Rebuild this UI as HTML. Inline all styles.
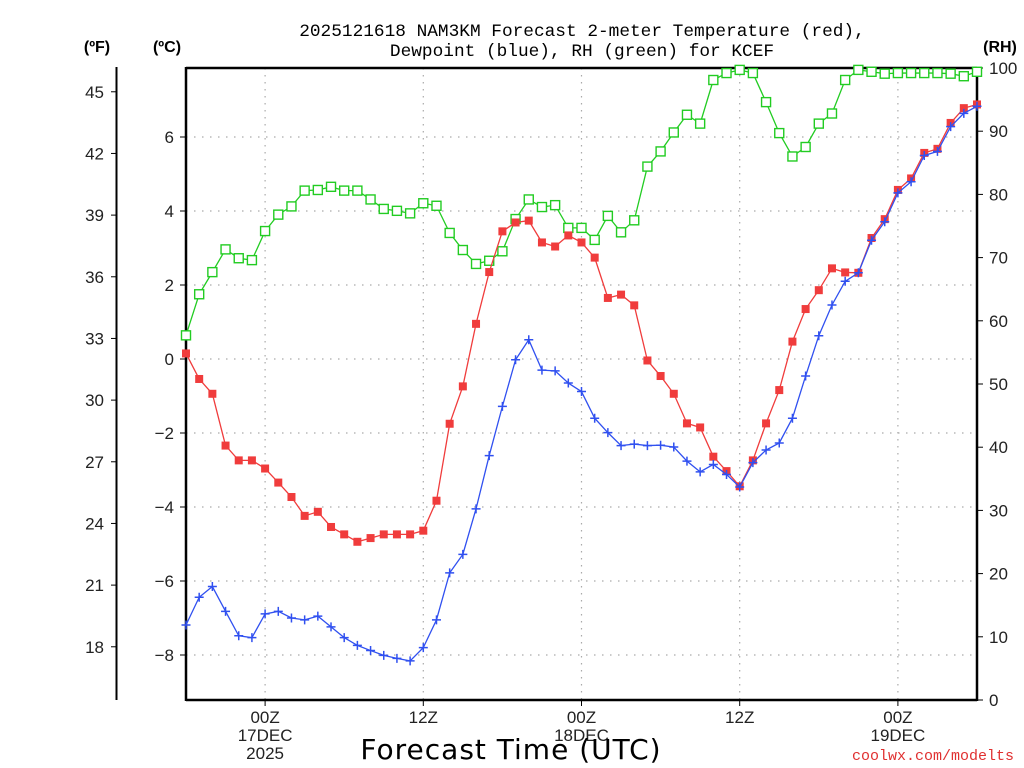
<!DOCTYPE html>
<html><head><meta charset="utf-8"><style>
html,body{margin:0;padding:0;background:#fff;}
svg{display:block;font-family:"Liberation Sans",sans-serif;}
</style></head><body>
<svg id="chart" width="1024" height="768" viewBox="0 0 1024 768" xmlns="http://www.w3.org/2000/svg">
<rect width="1024" height="768" fill="#fff"/>
<g font-family="Liberation Mono, monospace" font-size="17.8" text-anchor="middle" fill="#000">
<text x="582" y="36">2025121618 NAM3KM Forecast 2-meter Temperature (red),</text>
<text x="582" y="56">Dewpoint (blue), RH (green) for KCEF</text>
</g>
<text x="97" y="52" font-size="16" font-weight="bold" text-anchor="middle">(ºF)</text>
<text x="167" y="52" font-size="16" font-weight="bold" text-anchor="middle">(ºC)</text>
<text x="1000" y="52" font-size="16" font-weight="bold" text-anchor="middle">(RH)</text>
<g id="grid"></g>
<g id="axes"></g>
<g id="series"></g>
<text x="511" y="759" font-size="28" text-anchor="middle" font-family="DejaVu Sans, sans-serif" letter-spacing="1">Forecast Time (UTC)</text>
<text x="1014" y="760" font-size="15" fill="#e03030" text-anchor="end" font-family="Liberation Mono, monospace">coolwx.com/modelts</text>
</svg>
<script>
const hours = Array.from({length:61},(_,i)=>i-6); // forecast hours relative to 00Z 17DEC
const tempC = [0.15,-0.54,-0.94,-2.34,-2.74,-2.74,-2.96,-3.34,-3.73,-4.24,-4.13,-4.54,-4.74,-4.94,-4.84,-4.74,-4.74,-4.74,-4.64,-3.83,-1.75,-0.74,0.95,2.35,3.45,3.69,3.74,3.15,3.04,3.34,3.15,2.74,1.65,1.74,1.45,-0.04,-0.46,-0.94,-1.74,-1.85,-2.64,-3.03,-3.44,-2.74,-1.74,-0.84,0.47,1.35,1.86,2.45,2.34,2.33,3.27,3.78,4.57,4.88,5.57,5.68,6.38,6.78,6.88];
const dewC = [-7.19,-6.44,-6.15,-6.82,-7.48,-7.53,-6.89,-6.82,-7.0,-7.05,-6.95,-7.24,-7.53,-7.74,-7.88,-8.01,-8.09,-8.16,-7.80,-7.05,-5.78,-5.28,-4.05,-2.61,-1.28,-0.02,0.52,-0.30,-0.32,-0.65,-0.88,-1.60,-1.99,-2.34,-2.30,-2.34,-2.33,-2.38,-2.76,-3.05,-2.85,-3.12,-3.46,-2.80,-2.46,-2.27,-1.60,-0.46,0.63,1.46,2.10,2.33,3.21,3.71,4.49,4.79,5.50,5.61,6.28,6.64,6.83];
const rh = [57.7,64.2,67.7,71.3,69.9,69.6,74.2,76.8,78.1,80.6,80.7,81.2,80.6,80.6,79.2,77.7,77.4,77.0,78.6,78.2,73.9,71.2,69.0,69.5,71.0,76.1,79.2,78.0,78.3,74.7,74.7,72.8,76.6,74.0,75.9,84.4,86.8,89.8,92.6,91.2,98.1,99.2,99.7,99.2,94.6,89.7,86.0,87.5,91.2,92.8,98.1,99.7,99.4,99.1,99.2,99.2,99.2,99.2,99.1,98.7,99.4];
const cTicks = [-8,-6,-4,-2,0,2,4,6];
const fTicks = [18,21,24,27,30,33,36,39,42,45];
const rhTicks = [0,10,20,30,40,50,60,70,80,90,100];
const xTickHours = [0,12,24,36,48];
const xTickLabels = [["00Z","17DEC","2025"],["12Z"],["00Z","18DEC"],["12Z"],["00Z","19DEC"]];

const L=186,R=977,T=68,B=700;
const xS=h=>L+(h+6)*(R-L)/60;
const yC=c=>359-c*37;
const yF=f=>yC((f-32)*5/9);
const yRH=r=>B-r*(B-T)/100;
const NS="http://www.w3.org/2000/svg";
function mk(parent,tag,attrs){const e=document.createElementNS(NS,tag);for(const k in attrs)e.setAttribute(k,attrs[k]);parent.appendChild(e);return e;}
const grid=document.getElementById('grid'),axes=document.getElementById('axes'),ser=document.getElementById('series');

cTicks.forEach(c=>{
  const g=mk(grid,'line',{x1:L,x2:R,y1:yC(c),y2:yC(c),stroke:'#aaa','stroke-width':1.2,'stroke-dasharray':'1.5,6.5'});
  
  
  const t=mk(axes,'line',{x1:L-6,x2:L,y1:yC(c),y2:yC(c),stroke:'#000','stroke-width':1});
  
  
  const tx=mk(axes,'text',{x:L-12,y:yC(c)+6,'font-size':17,'text-anchor':'end',fill:'#222'});
  tx.textContent=c<0?'\u2212'+(-c):String(c);
  
  
});
xTickHours.forEach((h,i)=>{
  const g=mk(grid,'line',{x1:xS(h),x2:xS(h),y1:T,y2:B,stroke:'#aaa','stroke-width':1.2,'stroke-dasharray':'1.5,5.5'});
  
  
  const t=mk(axes,'line',{x1:xS(h),x2:xS(h),y1:B,y2:B+6,stroke:'#000','stroke-width':1});
  
  
  xTickLabels[i].forEach((s,j)=>{
    const tx=mk(axes,'text',{x:xS(h),y:B+23+j*18,'font-size':17,'text-anchor':'middle',fill:'#222'});
    tx.textContent=s;
    
    
  });
});
fTicks.forEach(f=>{
  const t=mk(axes,'line',{x1:111,x2:116,y1:yF(f),y2:yF(f),stroke:'#000','stroke-width':1});
  
  
  const tx=mk(axes,'text',{x:104,y:yF(f)+6,'font-size':17,'text-anchor':'end',fill:'#222'});
  tx.textContent=String(f);
  
  
});
rhTicks.forEach(r=>{
  const t=mk(axes,'line',{x1:R,x2:R+6,y1:yRH(r),y2:yRH(r),stroke:'#000','stroke-width':1});
  
  
  const tx=mk(axes,'text',{x:R+12,y:yRH(r)+6,'font-size':17,'text-anchor':'start',fill:'#222'});
  tx.textContent=String(r);
  
  
});
const fax=mk(axes,'line',{x1:116.5,x2:116.5,y1:67,y2:700,stroke:'#000','stroke-width':2});


const frame=mk(axes,'path',{d:`M${L},${B} H${R} M${L},${T} H${R} M${L},${T-1} V${B+1} M${R},${T-1} V${B+1}`,stroke:'#000','stroke-width':2.5,fill:'none'});



function series(vals,yf,color,name,marker){
  const pts=vals.map((v,i)=>[xS(hours[i]),yf(v)]);
  const pl=mk(ser,'polyline',{points:pts.map(p=>p.join(',')).join(' '),fill:'none',stroke:color,'stroke-width':1.3});
  
  
  pts.forEach(([x,y])=>{
    let m;
    if(marker==='fill') m=mk(ser,'rect',{x:x-4,y:y-4,width:8,height:8,fill:color});
    else if(marker==='open') m=mk(ser,'rect',{x:x-4.5,y:y-4.5,width:9,height:9,fill:'#fff',stroke:color,'stroke-width':1.4});
    else m=mk(ser,'path',{d:`M${x-4.5},${y}H${x+4.5}M${x},${y-4.5}V${y+4.5}`,stroke:color,'stroke-width':1.5});
    
    
  });
}
series(rh,yRH,'#22cc22','rh','open');
series(tempC,yC,'#f03c3c','temperature','fill');
series(dewC,yC,'#3050f0','dewpoint','plus');
</script>
</body></html>
